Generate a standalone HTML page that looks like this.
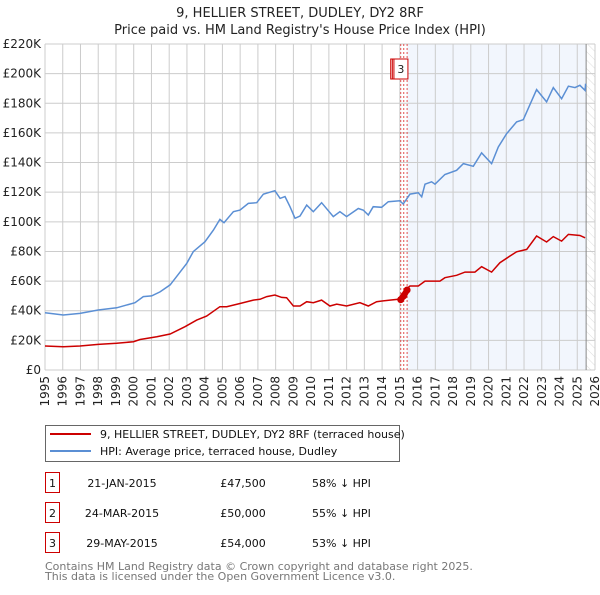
<!DOCTYPE html>
<html><head><meta charset="utf-8"><style>
body{margin:0;background:#fff;font-family:"Liberation Sans","DejaVu Sans",sans-serif;}
svg text{font-family:"DejaVu Sans","Liberation Sans",sans-serif;}
</style></head><body>
<svg id="c" width="600" height="590" viewBox="0 0 600 590" xmlns="http://www.w3.org/2000/svg">
<text x="300" y="17" text-anchor="middle" font-size="13" fill="#222">9, HELLIER STREET, DUDLEY, DY2 8RF</text>
<text x="300" y="34" text-anchor="middle" font-size="13" fill="#222">Price paid vs. HM Land Registry's House Price Index (HPI)</text>
<g id="grid"></g><g id="marks"></g><g id="axes"></g>
<g>
<rect x="45.5" y="425.5" width="354" height="36" fill="#fff" stroke="#666"/>
<line x1="50" y1="434" x2="91" y2="434" stroke="#cc0000" stroke-width="2"/>
<text x="100" y="438" font-size="11" fill="#111">9, HELLIER STREET, DUDLEY, DY2 8RF (terraced house)</text>
<line x1="50" y1="451" x2="91" y2="451" stroke="#5b8fd4" stroke-width="2"/>
<text x="100" y="455" font-size="11" fill="#111">HPI: Average price, terraced house, Dudley</text>
</g>
<g id="table" font-size="11" fill="#111"></g>
<text x="45" y="570" font-size="11" fill="#777">Contains HM Land Registry data © Crown copyright and database right 2025.</text>
<text x="45" y="580" font-size="11" fill="#777">This data is licensed under the Open Government Licence v3.0.</text>
</svg>
<script>
const hpiYears=[1995.0,1996.03,1996.97,1998.0,1999.04,2000.07,2000.54,2001.01,2001.48,2002.05,2002.42,2002.99,2003.36,2004.02,2004.49,2004.86,2005.09,2005.62,2005.99,2006.46,2006.93,2007.31,2007.96,2008.25,2008.53,2008.81,2009.09,2009.37,2009.75,2010.12,2010.59,2011.25,2011.62,2012.0,2012.66,2012.94,2013.22,2013.5,2013.97,2014.35,2015.0,2015.19,2015.57,2016.04,2016.23,2016.42,2016.79,2016.98,2017.54,2018.2,2018.58,2019.14,2019.61,2020.17,2020.55,2021.02,2021.58,2021.96,2022.71,2023.27,2023.65,2024.12,2024.5,2024.87,2025.15,2025.44,2025.47];
const hpiValues=[38.7,37.1,38.2,40.5,42,45.4,49.5,50,52.7,57.4,63,72,79.9,86.6,94.4,101.6,99.4,106.8,107.9,112.4,112.9,118.7,121,115.8,117,110.2,102.4,103.9,111.3,106.8,112.9,103.5,106.8,103.5,109,107.9,104.6,110.2,109.8,113.6,114.2,112,118.7,119.6,116.9,125.4,127,125.4,131.9,134.8,139.3,137.5,146.5,139.3,150.5,159.5,167.4,168.9,189.2,180.9,190.6,183.1,191.5,190.6,192.1,188.7,193.2];
const ppYears=[1995.0,1996.03,1996.97,1998.0,1999.04,1999.98,2000.36,2001.3,2002.05,2002.89,2003.55,2004.11,2004.86,2005.24,2005.99,2006.74,2007.12,2007.5,2007.96,2008.34,2008.62,2009.0,2009.37,2009.75,2010.12,2010.59,2011.06,2011.44,2012.0,2012.75,2013.22,2013.69,2014.44,2014.91,2015.04,2015.29,2015.57,2016.04,2016.42,2017.26,2017.54,2018.2,2018.67,2019.23,2019.61,2020.17,2020.64,2021.21,2021.58,2022.15,2022.71,2023.27,2023.65,2024.12,2024.5,2025.15,2025.44];
const ppValues=[16.2,15.7,16.2,17.3,18,19.1,20.6,22.5,24.3,29.2,33.7,36.4,42.7,42.7,44.9,47.2,47.7,49.5,50.6,49,48.8,43.2,43.2,46.1,45.4,47.2,43.2,44.5,43.2,45.4,43.2,46.1,47.2,47.7,50,54,56.7,56.7,60,60,62.3,63.9,66.1,66.1,69.7,66.1,72.4,76.9,79.8,81.4,90.4,86.4,90,87,91.5,90.8,89.2];
const saleYears=[2015.05,2015.22,2015.41];
const saleValues=[47.5,50,54];
const saleLabels=["1","2","3"];
const saleDates=["21-JAN-2015","24-MAR-2015","29-MAY-2015"];
const salePrices=["£47,500","£50,000","£54,000"];
const saleDiffs=["58% ↓ HPI","55% ↓ HPI","53% ↓ HPI"];
const yTicks=[0,20,40,60,80,100,120,140,160,180,200,220];
const yTickLabels=["£0","£20K","£40K","£60K","£80K","£100K","£120K","£140K","£160K","£180K","£200K","£220K"];
const xTicks=[1995,1996,1997,1998,1999,2000,2001,2002,2003,2004,2005,2006,2007,2008,2009,2010,2011,2012,2013,2014,2015,2016,2017,2018,2019,2020,2021,2022,2023,2024,2025,2026];

const L=45,R=595,T=44,B=370,X0=1995,X1=2026,Y1=220;
const sx=y=>L+(y-X0)/(X1-X0)*(R-L);
const sy=v=>B-v/Y1*(B-T);
const NS="http://www.w3.org/2000/svg";
function mk(tag,attrs,parent,txt){const e=document.createElementNS(NS,tag);for(const k in attrs)e.setAttribute(k,attrs[k]);if(txt!==undefined)e.textContent=txt;parent.appendChild(e);return e;}
const grid=document.getElementById('grid'),marks=document.getElementById('marks'),axes=document.getElementById('axes'),table=document.getElementById('table');
const sh=mk('rect',{x:sx(saleYears[2]),y:T,width:sx(2025.5)-sx(saleYears[2]),height:B-T,fill:'#f2f6fd'},grid);


const defs=mk('defs',{},grid);
const pat=mk('pattern',{id:'hatch',width:6,height:6,patternUnits:'userSpaceOnUse',patternTransform:'rotate(-45)'},defs);
mk('line',{x1:0,y1:0,x2:0,y2:6,stroke:'#dddddd','stroke-width':1},pat);
const ht=mk('rect',{x:sx(2025.5),y:T,width:R-sx(2025.5),height:B-T,fill:'url(#hatch)'},grid);


yTicks.forEach((v,i)=>{
  const g=mk('line',{x1:L,x2:R,y1:sy(v),y2:sy(v),stroke:'#cccccc','stroke-width':1},grid);
  
  
  const t=mk('text',{x:L-4,y:sy(v)+4,'text-anchor':'end','font-size':12,fill:'#222'},axes,yTickLabels[i]);
  
  
});
xTicks.forEach(y=>{
  const g=mk('line',{x1:sx(y),x2:sx(y),y1:T,y2:B,stroke:'#cccccc','stroke-width':1},grid);
  
  
  const t=mk('text',{x:0,y:0,'text-anchor':'end','font-size':12,fill:'#222',transform:`translate(${sx(y)+4},${B+6}) rotate(-90)`},axes,String(y));
  
  
});
const nl=mk('line',{x1:sx(2025.5),x2:sx(2025.5),y1:T,y2:B,stroke:'#888','stroke-width':1},grid);


saleYears.forEach(y=>{
  const l=mk('line',{x1:sx(y),x2:sx(y),y1:T,y2:B,stroke:'#e05050','stroke-width':1,'stroke-dasharray':'2,2'},grid);
  
  
});
const pts=(xs,vs)=>xs.map((x,i)=>sx(x).toFixed(1)+','+sy(vs[i]).toFixed(1)).join(' ');
const hl=mk('polyline',{points:pts(hpiYears,hpiValues),fill:'none',stroke:'#5b8fd4','stroke-width':1.5},marks);


const pl=mk('polyline',{points:pts(ppYears,ppValues),fill:'none',stroke:'#cc0000','stroke-width':1.5},marks);


const sl=mk('polyline',{points:pts(saleYears,saleValues),fill:'none',stroke:'#cc0000','stroke-width':6,'stroke-linecap':'round'},marks);


saleYears.forEach((y,i)=>{
  const c=mk('circle',{cx:sx(y),cy:sy(saleValues[i]),r:3.5,fill:'#cc0000'},marks);
  
  
  const bx=sx(saleYears[0])-9+i*1.6;
  const r=mk('rect',{x:bx-1,y:59,width:i==2?14:13,height:20,fill:'#fff',stroke:'#cc0000','stroke-width':1},marks);
  
  
  const t=mk('text',{x:bx+6,y:73,'text-anchor':'middle','font-size':11,fill:i==2?'#222':'none'},marks,saleLabels[i]);
  
  
});
saleLabels.forEach((s,i)=>{
  const cy=483+i*30;
  const r=mk('rect',{x:45.5,y:cy-10.5,width:14,height:20,fill:'#fff',stroke:'#cc0000'},table);
  
  
  const a=mk('text',{x:52.5,y:cy+4,'text-anchor':'middle'},table,s);
  
  
  const d=mk('text',{x:122,y:cy+4,'text-anchor':'middle'},table,saleDates[i]);
  
  
  const p=mk('text',{x:243,y:cy+4,'text-anchor':'middle'},table,salePrices[i]);
  
  
  const h=mk('text',{x:312,y:cy+4},table,saleDiffs[i]);
  
  
});
</script>
</body></html>
